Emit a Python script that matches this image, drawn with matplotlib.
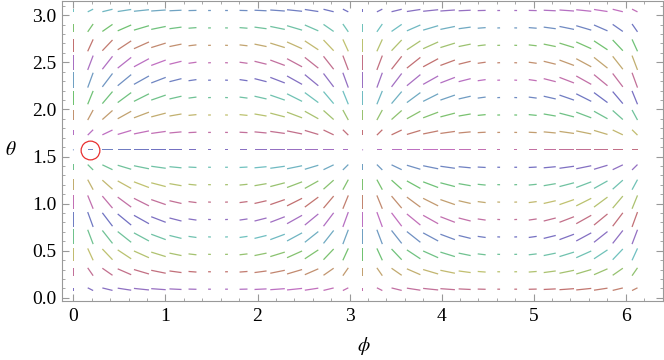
import numpy as np
import matplotlib
matplotlib.use("Agg")
import matplotlib.pyplot as plt
from matplotlib.colors import hsv_to_rgb

plt.rcParams['mathtext.fontset'] = 'stix'
plt.rcParams['font.family'] = ['Liberation Serif', 'DejaVu Serif']

# sample grid of the direction field
phi = np.arange(34) * np.pi / 17
theta = (np.arange(17) + 0.5) * np.pi / 17

# hue of each row (bottom to top) at phi = 0, drifting along phi
row_hue = [250, 330, 55, 140, 230, 310, 45, 140, 220, 290, 25, 120, 205, 280, 0, 110, 180]
hue_drift = 130

# marked point
mark_phi = np.pi / 17
mark_theta = np.pi / 2

P, T = np.meshgrid(phi, theta)
# flow of x^2 on the sphere, in (phi, theta) coordinates
U = -2 * np.cos(P) * np.sin(P)
V = 2 * np.cos(P) ** 2 * np.sin(T) * np.cos(T)

cols = []
for j in range(len(theta)):
    for k in range(len(phi)):
        h = ((row_hue[j] + hue_drift * phi[k] / (2 * np.pi)) % 360) / 360
        cols.append(hsv_to_rgb([h, 0.42, 0.76]))

fig = plt.figure(figsize=(6.64, 3.6), dpi=100)
ax = fig.add_axes([62 / 664, 1 - 301 / 360, 601 / 664, 300 / 360])

ax.quiver(P, T, U, V, color=cols, pivot='mid', angles='xy', scale_units='xy',
          scale=6.1, headwidth=1, headlength=0, headaxislength=0, width=0.0021)

ax.plot(mark_phi, mark_theta, 'o', ms=13.5, mfc='none', mec='#e83030', mew=0.9)

ax.set_xlim(-0.124, 6.405)
ax.set_ylim(-0.033, 3.150)

ax.set_xticks(range(7))
ax.set_xticks(np.arange(0, 6.41, 0.2), minor=True)
ax.set_yticks(np.arange(0, 3.01, 0.5))
ax.set_yticklabels(['%.1f' % v for v in np.arange(0, 3.01, 0.5)])
ax.set_yticks(np.arange(0, 3.15, 0.1), minor=True)

ax.tick_params(which='both', direction='in', top=True, right=True,
               color='#999999', labelcolor='black', labelsize=14)
ax.tick_params(which='major', length=5)
ax.tick_params(which='minor', length=2.5)
ax.tick_params(axis='x', pad=5)
ax.tick_params(axis='y', pad=4)
for s in ax.spines.values():
    s.set_color('#999999')
    s.set_linewidth(0.8)

fig.text(364 / 664, 1 - 346 / 360, r'$\phi$', ha='center', va='center', fontsize=14)
fig.text(11 / 664, 1 - 150 / 360, r'$\theta$', ha='center', va='center', fontsize=14)

fig.savefig('out.png', dpi=100)
